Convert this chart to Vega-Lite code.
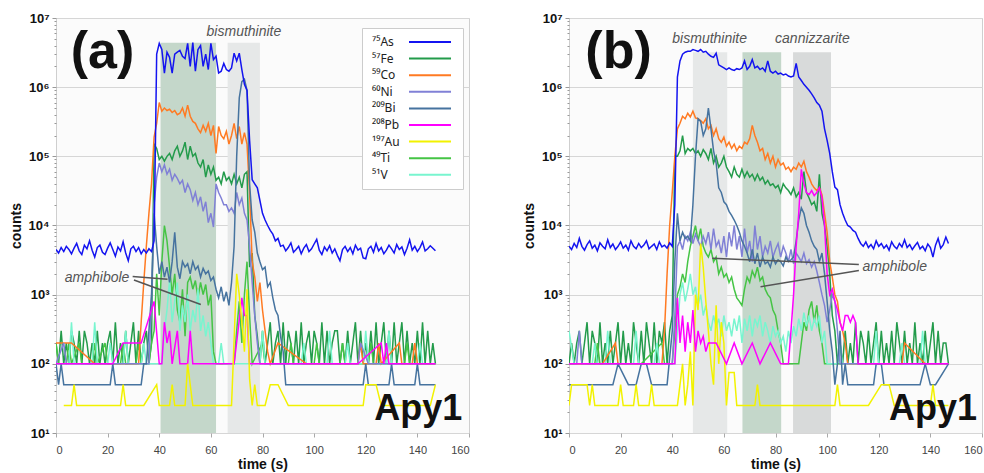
{
"$schema":"https://vega.github.io/schema/vega-lite/v6.json",
"background":"white",
"padding":{"left":8,"top":11,"right":2,"bottom":0},
"spacing":51,
"config":{"font":"Liberation Sans","view":{"stroke":"#cfcfcf","fill":"#fbfbfb"}},
"resolve":{"scale":{"color":"independent"},"legend":{"color":"independent"}},
"datasets":{
"bands":[
{"p":"a","x1":40.5,"x2":62,"lo":10,"hi":4400000,"c":"#c4d7ca"},
{"p":"a","x1":66.5,"x2":79,"lo":10,"hi":4400000,"c":"#e6e8e8"},
{"p":"b","x1":48,"x2":61.3,"lo":10,"hi":3200000,"c":"#e6e8e8"},
{"p":"b","x1":67.2,"x2":82.2,"lo":10,"hi":3200000,"c":"#c4d7ca"},
{"p":"b","x1":86.8,"x2":101.5,"lo":10,"hi":3200000,"c":"#d8dada"}],
"notes":[
{"p":"a","k":"big","t":18.0,"v":1900000,"label":"(a)"},
{"p":"b","k":"big","t":19.2,"v":1900000,"label":"(b)"},
{"p":"a","k":"apy","t":157.4,"v":15.5,"label":"Apy1"},
{"p":"b","k":"apy","t":158.1,"v":15.5,"label":"Apy1"},
{"p":"a","k":"it","t":72.8,"v":5500000,"label":"bismuthinite"},
{"p":"a","k":"it","t":15.9,"v":1550,"label":"amphibole"},
{"p":"b","k":"it","t":54.5,"v":4400000,"label":"bismuthinite"},
{"p":"b","k":"it","t":94.3,"v":4400000,"label":"cannizzarite"},
{"p":"b","k":"it","t":126.2,"v":2190,"label":"amphibole"}],
"ptr":[
{"p":"a","t1":29.7,"v1":1830,"t2":43.2,"v2":1670},
{"p":"a","t1":30.2,"v1":1630,"t2":56.1,"v2":720},
{"p":"b","t1":112.3,"v1":2720,"t2":55.5,"v2":3370},
{"p":"b","t1":112.3,"v1":2240,"t2":74.2,"v2":1300}],
"a":[
{"t":0,"As":4500,"Fe":200,"Co":200,"Ni":100,"Bi":100,"Pb":100,"Ti":200,"V":100},
{"t":1,"As":4000,"Fe":100,"Bi":50,"Ti":100},
{"t":2,"As":4800,"Fe":300,"Bi":100},
{"t":3,"As":4200,"Fe":100,"Ni":200,"Bi":50,"Au":25},
{"t":4,"As":5000,"Fe":200,"Ni":100,"Ti":100},
{"t":5,"As":4500,"Fe":100,"Ti":200,"V":100},
{"t":6,"As":3900,"Fe":300,"Co":200,"Au":25,"Ti":100,"V":400},
{"t":7,"As":4700,"Fe":200,"Au":50,"V":100},
{"t":8,"As":5500,"Fe":100,"Au":25},
{"t":9,"As":4300,"Fe":300,"Ti":200},
{"t":10,"As":3800,"Fe":100,"Ti":100},
{"t":11,"As":5200,"Fe":300},
{"t":12,"As":4600,"Fe":200},
{"t":13,"As":6000,"Fe":100},
{"t":14,"As":4400,"Fe":200,"Ti":100,"V":100},
{"t":15,"As":3500,"Fe":100,"Co":100,"Ti":200,"V":400},
{"t":16,"As":4800,"Fe":300,"Ti":100,"V":100},
{"t":17,"As":5200,"Fe":100},
{"t":18,"As":4100,"Fe":200},
{"t":19,"As":3800,"Fe":100,"Ti":200},
{"t":20,"As":4700,"Fe":200,"Ti":100,"V":100},
{"t":21,"As":5600,"Fe":300,"Bi":50,"V":200},
{"t":22,"As":4500,"Fe":100,"Bi":100,"Pb":100,"V":100},
{"t":23,"As":3600,"Fe":400,"Bi":50},
{"t":24,"As":4900,"Fe":100},
{"t":25,"As":4300,"Fe":200,"Au":25,"Ti":100},
{"t":26,"As":5800,"Fe":100,"Pb":200,"Au":50,"Ti":200,"V":100},
{"t":27,"As":4000,"Fe":300,"Au":25,"Ti":100,"V":300},
{"t":28,"As":3100,"Fe":100,"V":100},
{"t":29,"As":4600,"Fe":200},
{"t":30,"As":5000,"Fe":400},
{"t":31,"As":4200,"Fe":100,"Ti":100},
{"t":32,"As":4800,"Fe":300,"Co":100,"Ti":200},
{"t":33,"As":3900,"Fe":100,"Co":400,"Bi":50,"Pb":200,"Ti":100,"V":100},
{"t":34,"As":4500,"Fe":200,"Co":1500,"Bi":100,"Au":25,"V":200},
{"t":35,"As":4000,"Fe":300,"Co":5000,"Bi":100,"V":100},
{"t":36,"As":4600,"Fe":100,"Co":15000,"Ni":100,"Bi":300,"Ti":100},
{"t":37,"As":4200,"Fe":200,"Co":40000,"Ni":800,"Bi":1000,"Ti":200},
{"t":38,"As":6000,"Fe":150000,"Co":190000,"Ni":20000,"Bi":15000,"Pb":800,"Ti":300},
{"t":39,"As":3000000,"Fe":130000,"Co":300000,"Ni":50000,"Bi":5000,"Au":50,"Ti":2000},
{"t":40,"As":4300000,"Fe":90000,"Co":600000,"Ni":80000,"Bi":2000,"Pb":100,"Au":25,"Ti":500},
{"t":41,"As":3500000,"Fe":100000,"Co":450000,"Ni":60000,"Bi":3000,"Pb":100,"Ti":3000,"V":100},
{"t":42,"As":1600000,"Fe":85000,"Co":500000,"Ni":75000,"Bi":1800,"Pb":400,"Ti":10000,"V":300},
{"t":43,"As":3200000,"Fe":100000,"Co":460000,"Ni":55000,"Bi":2500,"Pb":200,"Ti":6000,"V":600},
{"t":44,"As":2700000,"Fe":110000,"Co":480000,"Ni":65000,"Bi":1500,"Pb":300,"Au":25,"Ti":2500,"V":1600},
{"t":45,"As":1600000,"Fe":90000,"Co":430000,"Ni":45000,"Bi":3000,"Pb":100,"Au":50,"Ti":1000,"V":400},
{"t":46,"As":3000000,"Fe":120000,"Co":460000,"Ni":55000,"Bi":8000,"Au":25,"Ti":2000,"V":800},
{"t":47,"As":3200000,"Fe":140000,"Co":400000,"Ni":48000,"Bi":2500,"Pb":300,"Ti":600,"V":1500},
{"t":48,"As":3400000,"Fe":100000,"Co":420000,"Ni":40000,"Bi":1700,"Pb":100,"Ti":400,"V":300},
{"t":49,"As":2800000,"Fe":120000,"Co":500000,"Ni":45000,"Bi":3000,"Ti":1200,"V":700},
{"t":50,"As":2600000,"Fe":160000,"Co":380000,"Ni":30000,"Bi":2500,"Au":25,"Ti":250,"V":400},
{"t":51,"As":4300000,"Fe":90000,"Co":550000,"Ni":40000,"Bi":2800,"Pb":100,"Au":100,"Ti":1500,"V":1000},
{"t":52,"As":2000000,"Fe":140000,"Co":380000,"Ni":33000,"Bi":2000,"Pb":300,"Ti":1800,"V":300},
{"t":53,"As":4400000,"Fe":100000,"Co":320000,"Ni":23000,"Bi":3000,"Pb":100,"Au":25,"Ti":1200,"V":600},
{"t":54,"As":1700000,"Fe":110000,"Co":300000,"Ni":30000,"Bi":2300,"Ti":1600,"V":400},
{"t":55,"As":3500000,"Fe":80000,"Co":250000,"Ni":20000,"Bi":2600,"Ti":900,"V":1200},
{"t":56,"As":4000000,"Fe":70000,"Co":220000,"Ni":26000,"Bi":1800,"Ti":1500,"V":300},
{"t":57,"As":2000000,"Fe":90000,"Co":280000,"Ni":16000,"Bi":2400,"Ti":1000,"V":500},
{"t":58,"As":3000000,"Fe":50000,"Co":230000,"Ni":22000,"Bi":2000,"Ti":1400,"V":250},
{"t":59,"As":1800000,"Fe":75000,"Co":300000,"Ni":11000,"Bi":2200,"Ti":700,"V":400},
{"t":60,"As":4300000,"Fe":55000,"Co":200000,"Ni":15000,"Bi":1600,"Ti":1000,"V":200},
{"t":61,"As":2500000,"Fe":70000,"Co":280000,"Ni":9500,"Bi":1800,"Ti":150,"V":100},
{"t":62,"As":2800000,"Fe":45000,"Co":110000,"Ni":40000,"Bi":1200,"Ti":100},
{"t":63,"As":1600000,"Fe":50000,"Co":270000,"Ni":30000,"Bi":900,"V":100},
{"t":64,"As":1700000,"Fe":40000,"Co":200000,"Ni":25000,"Bi":1300,"V":200},
{"t":65,"As":2200000,"Fe":60000,"Co":180000,"Ni":20000,"Bi":800,"V":100},
{"t":66,"As":1800000,"Fe":45000,"Co":230000,"Ni":20000,"Bi":1100},
{"t":67,"As":1700000,"Fe":50000,"Co":150000,"Ni":16000,"Bi":700},
{"t":68,"As":1900000,"Fe":40000,"Co":200000,"Ni":18000,"Bi":1500,"Au":25},
{"t":69,"As":3100000,"Fe":55000,"Co":300000,"Ni":15000,"Bi":5000,"Pb":100,"Ti":100},
{"t":70,"As":2400000,"Fe":40000,"Co":180000,"Ni":30000,"Bi":100000,"Au":2000,"Ti":300},
{"t":71,"As":3100000,"Fe":50000,"Co":270000,"Ni":20000,"Bi":700000,"Au":1000,"Ti":800},
{"t":72,"As":1800000,"Fe":35000,"Co":150000,"Ni":25000,"Bi":1200000,"Pb":900,"Au":400,"Ti":200},
{"t":73,"As":1100000,"Fe":55000,"Co":220000,"Ni":15000,"Bi":1300000,"Pb":500,"Au":150,"Ti":1000},
{"t":74,"As":900000,"Fe":60000,"Co":150000,"Ni":12000,"Bi":900000,"Pb":500,"Au":1200,"Ti":3000},
{"t":75,"As":170000,"Fe":2500,"Co":30000,"Ni":5000,"Bi":40000,"Pb":100,"Au":60,"Ti":500},
{"t":76,"As":46000,"Fe":4000,"Co":3000,"Ni":1500,"Bi":12000,"Au":25,"Ti":100},
{"t":77,"As":40000,"Fe":500,"Co":1800,"Ni":500,"Bi":8000,"Au":50},
{"t":78,"As":35000,"Fe":250,"Co":800,"Ni":200,"Bi":4000,"Au":25},
{"t":79,"As":23000,"Fe":100,"Co":1500,"Ni":100,"Bi":3000,"V":100},
{"t":80,"As":15000,"Fe":300,"Co":600,"Bi":2300,"Ti":200,"V":300},
{"t":81,"As":12000,"Fe":100,"Co":300,"Bi":2500,"Au":25,"Ti":100,"V":100},
{"t":82,"As":10000,"Fe":200,"Co":150,"Bi":1300},
{"t":83,"As":8500,"Fe":400,"Co":100,"Bi":1500,"Au":50},
{"t":84,"As":7500,"Fe":100,"Bi":900},
{"t":85,"As":6000,"Fe":200,"Bi":600},
{"t":86,"As":6500,"Fe":300,"Co":200,"Bi":500,"Au":50},
{"t":87,"As":5000,"Fe":100,"Bi":250},
{"t":88,"As":5200,"Fe":400,"Bi":150},
{"t":89,"As":4300,"Fe":100,"Bi":50},
{"t":90,"As":4800,"Fe":300,"Au":25,"Ti":100},
{"t":91,"As":5600,"Fe":200,"Ti":200},
{"t":92,"As":4100,"Fe":100,"Ti":100},
{"t":93,"As":4500,"Fe":300},
{"t":94,"As":5000,"Fe":100},
{"t":95,"As":3900,"Fe":400,"V":100},
{"t":96,"As":4700,"Fe":100,"V":200},
{"t":97,"As":5300,"Fe":200,"Co":100,"V":100},
{"t":98,"As":4200,"Fe":300},
{"t":99,"As":4600,"Fe":100},
{"t":100,"As":5400,"Fe":300,"Ti":100},
{"t":101,"As":6300,"Fe":200,"Ti":200},
{"t":102,"As":4400,"Fe":100,"Ti":100},
{"t":103,"As":3800,"Fe":400},
{"t":104,"As":4900,"Fe":100},
{"t":105,"As":4300,"Fe":300,"V":100},
{"t":106,"As":5100,"Fe":100,"V":300},
{"t":107,"As":4000,"Fe":200,"V":100},
{"t":108,"As":4600,"Fe":300},
{"t":109,"As":3700,"Fe":300},
{"t":110,"As":3100,"Fe":100,"Ti":100},
{"t":111,"As":4500,"Fe":200,"Ti":200},
{"t":112,"As":5000,"Fe":100,"Ti":100,"V":100},
{"t":113,"As":4200,"Fe":300,"V":200},
{"t":114,"As":4800,"Fe":100,"V":100},
{"t":115,"As":3900,"Fe":200},
{"t":116,"As":5200,"Fe":400},
{"t":117,"As":4400,"Fe":100,"Co":100,"Ni":100,"Pb":100},
{"t":118,"As":4700,"Fe":300,"Co":200,"Ni":200},
{"t":119,"As":3400,"Fe":100,"Co":100,"Bi":50,"Au":25,"V":100},
{"t":120,"As":3300,"Fe":200,"Bi":100,"Au":50,"V":300},
{"t":121,"As":4600,"Fe":100,"Ni":100,"Bi":50,"Ti":100,"V":100},
{"t":122,"As":5000,"Fe":300,"Ti":200},
{"t":123,"As":4100,"Fe":100,"Ti":100},
{"t":124,"As":5500,"Fe":400,"Co":100,"Au":50},
{"t":125,"As":4300,"Fe":100,"Co":200},
{"t":126,"As":4800,"Fe":200,"Co":100,"Pb":200,"Au":25},
{"t":127,"As":3900,"Fe":400,"Pb":100},
{"t":128,"As":4400,"Fe":100,"Pb":200,"V":100},
{"t":129,"As":5200,"Fe":300,"Bi":50,"Pb":100,"V":300},
{"t":130,"As":4600,"Fe":100,"Bi":100,"V":100},
{"t":131,"As":4000,"Fe":400,"Bi":50},
{"t":132,"As":5300,"Fe":100},
{"t":133,"As":4500,"Fe":200,"Co":200},
{"t":134,"As":4900,"Fe":400,"Co":100},
{"t":135,"As":3800,"Fe":100,"Ti":100},
{"t":136,"As":4700,"Fe":300,"Ti":200},
{"t":137,"As":6200,"Fe":100,"Ti":100},
{"t":138,"As":4400,"Fe":200,"Co":100},
{"t":139,"As":5000,"Fe":100,"Co":200,"Bi":50},
{"t":140,"As":4200,"Fe":300,"Co":100,"Bi":100,"V":100},
{"t":141,"As":4800,"Fe":100,"Bi":50,"V":200},
{"t":142,"As":5800,"Fe":400,"V":100},
{"t":143,"As":4300,"Fe":100},
{"t":144,"As":4600,"Fe":300},
{"t":145,"As":5100,"Fe":100,"Au":25},
{"t":146,"As":4700,"Fe":200},
{"t":147,"As":4300,"Fe":100,"Co":100,"Ni":100,"Bi":50,"Pb":100,"Au":50,"Ti":100,"V":100}],
"b":[
{"t":0,"As":5000,"Fe":100,"Co":100,"Ni":100,"Bi":50,"Pb":100,"Au":25,"Ti":100,"V":300},
{"t":1,"As":4500,"Fe":200,"Au":50},
{"t":2,"As":5500,"Fe":100,"V":100},
{"t":3,"As":4800,"Fe":200,"Ni":100},
{"t":4,"As":6500,"Fe":300,"Ni":300},
{"t":5,"As":5000,"Fe":100,"Ni":100},
{"t":6,"As":4400,"Fe":200},
{"t":7,"As":5300,"Fe":400,"Au":50},
{"t":8,"As":6000,"Fe":100,"Au":25},
{"t":9,"As":4700,"Fe":300,"Au":50,"V":100},
{"t":10,"As":5200,"Fe":200,"Au":25,"Ti":100,"V":200},
{"t":11,"As":4300,"Fe":100,"Ti":200,"V":100},
{"t":12,"As":5600,"Fe":400,"Ti":100},
{"t":13,"As":5000,"Fe":100,"Co":100},
{"t":14,"As":4600,"Fe":200,"V":100},
{"t":15,"As":6200,"Fe":100,"V":300},
{"t":16,"As":4800,"Fe":300,"V":100},
{"t":17,"As":5400,"Fe":100,"Bi":50},
{"t":18,"As":4500,"Fe":200,"Co":200},
{"t":19,"As":5000,"Fe":400,"Co":100,"Bi":100,"Au":25},
{"t":20,"As":5800,"Fe":100,"Au":50},
{"t":21,"As":4700,"Fe":300,"Au":25},
{"t":22,"As":5200,"Fe":100},
{"t":23,"As":4400,"Fe":200,"Bi":50},
{"t":24,"As":6000,"Fe":100},
{"t":25,"As":5000,"Fe":400,"Au":25,"V":100},
{"t":26,"As":4600,"Fe":200,"Bi":50,"Au":50,"V":300},
{"t":27,"As":5500,"Fe":100,"Au":25,"V":100},
{"t":28,"As":4800,"Fe":300,"Bi":100,"Ti":100},
{"t":29,"As":5200,"Fe":100},
{"t":30,"As":6000,"Fe":400,"Bi":100},
{"t":31,"As":4600,"Fe":200,"Au":25},
{"t":32,"As":5000,"Fe":100,"Bi":50,"Au":50},
{"t":33,"As":5400,"Fe":400,"Au":25,"V":100},
{"t":34,"As":4500,"Fe":100,"V":200},
{"t":35,"As":5800,"Fe":300,"V":100},
{"t":36,"As":4900,"Fe":200,"Co":100,"Ti":200},
{"t":37,"As":5200,"Fe":400,"Co":300,"Ti":100},
{"t":38,"As":4700,"Fe":100,"Co":2000,"Bi":50},
{"t":39,"As":5600,"Fe":300,"Co":10000},
{"t":40,"As":5000,"Fe":500,"Co":30000,"Ni":100,"Bi":300,"Ti":100},
{"t":41,"As":20000,"Fe":100000,"Co":100000,"Ni":500,"Bi":3000,"Pb":100,"Ti":300,"V":100},
{"t":42,"As":1400000,"Fe":100000,"Co":250000,"Ni":5000,"Bi":15000,"Pb":900,"Au":25,"Ti":1000,"V":300},
{"t":43,"As":2400000,"Fe":120000,"Co":300000,"Ni":6000,"Bi":6000,"Pb":200,"Au":50,"Ti":1300,"V":1000},
{"t":44,"As":3000000,"Fe":200000,"Co":380000,"Ni":4500,"Bi":8000,"Pb":500,"Au":100,"Ti":2000,"V":1500},
{"t":45,"As":3200000,"Fe":110000,"Co":350000,"Ni":7000,"Bi":6500,"Pb":150,"Au":25,"Ti":1500,"V":800},
{"t":46,"As":3300000,"Fe":130000,"Co":420000,"Ni":6000,"Bi":7000,"Pb":400,"Au":50,"Ti":3000,"V":1200},
{"t":47,"As":3300000,"Fe":120000,"Co":370000,"Ni":8000,"Bi":6000,"Pb":200,"Au":150,"Ti":5000,"V":2000},
{"t":48,"As":3500000,"Fe":130000,"Co":450000,"Ni":5500,"Bi":20000,"Pb":600,"Au":25,"Ti":7000,"V":1000},
{"t":49,"As":3400000,"Fe":110000,"Co":360000,"Ni":7500,"Bi":100000,"Pb":150,"Au":1000,"Ti":10000,"V":1300},
{"t":50,"As":3300000,"Fe":120000,"Co":350000,"Ni":6000,"Bi":350000,"Pb":300,"Au":600,"Ti":6000,"V":700},
{"t":51,"As":3500000,"Fe":100000,"Co":330000,"Ni":5000,"Bi":320000,"Pb":200,"Au":5500,"Ti":9000,"V":1000},
{"t":52,"As":3200000,"Fe":125000,"Co":300000,"Ni":7000,"Bi":200000,"Pb":250,"Au":2500,"Ti":5000,"V":500},
{"t":53,"As":3300000,"Fe":110000,"Co":350000,"Ni":5500,"Bi":250000,"Pb":150,"Au":800,"Ti":4000,"V":700},
{"t":54,"As":3000000,"Fe":90000,"Co":250000,"Ni":8000,"Bi":500000,"Pb":200,"Au":300,"Ti":3500,"V":400},
{"t":55,"As":2800000,"Fe":130000,"Co":280000,"Ni":4500,"Bi":250000,"Au":100,"Ti":4500,"V":300},
{"t":56,"As":2700000,"Fe":80000,"Co":200000,"Ni":9000,"Bi":120000,"Au":50,"Ti":3000,"V":500},
{"t":57,"As":3100000,"Fe":100000,"Co":250000,"Ni":5000,"Bi":80000,"Pb":200,"Au":700,"Ti":3500,"V":350},
{"t":58,"As":2100000,"Fe":70000,"Co":180000,"Ni":6000,"Bi":35000,"Au":100,"Ti":2000,"V":450},
{"t":59,"As":2000000,"Fe":80000,"Co":160000,"Ni":4000,"Bi":30000,"Au":400,"Ti":2500,"V":250},
{"t":60,"As":1900000,"Fe":100000,"Co":190000,"Ni":7000,"Bi":22000,"Au":200,"Ti":1800,"V":500},
{"t":61,"As":1800000,"Fe":70000,"Co":140000,"Ni":3500,"Bi":20000,"Pb":100,"Au":25,"Ti":2000,"V":300},
{"t":62,"As":1900000,"Fe":60000,"Co":160000,"Ni":8000,"Bi":16000,"Au":75,"Ti":1500,"V":400},
{"t":63,"As":1800000,"Fe":50000,"Co":130000,"Ni":5000,"Bi":14000,"Ti":1800,"V":250},
{"t":64,"As":1750000,"Fe":70000,"Co":150000,"Ni":10000,"Bi":12000,"Pb":200,"Au":75,"Ti":1200,"V":450},
{"t":65,"As":1850000,"Fe":55000,"Co":120000,"Ni":4500,"Bi":10000,"Au":25,"Ti":900,"V":300},
{"t":66,"As":1800000,"Fe":50000,"Co":140000,"Ni":7000,"Bi":8000,"Ti":800,"V":500},
{"t":67,"As":1900000,"Fe":65000,"Co":130000,"Ni":3500,"Bi":6000,"Pb":100,"Ti":700,"V":200},
{"t":68,"As":2400000,"Fe":50000,"Co":160000,"Ni":9000,"Bi":5000,"Ti":1200,"V":450},
{"t":69,"As":1800000,"Fe":60000,"Co":150000,"Ni":4000,"Bi":4000,"Ti":1800,"V":300},
{"t":70,"As":2000000,"Fe":50000,"Co":180000,"Ni":6000,"Bi":3000,"Ti":1500,"V":500},
{"t":71,"As":2500000,"Fe":55000,"Co":280000,"Ni":3000,"Bi":4500,"Pb":200,"Ti":2200,"V":250},
{"t":72,"As":1900000,"Fe":45000,"Co":200000,"Ni":10000,"Bi":2800,"Au":25,"Ti":1800,"V":450},
{"t":73,"As":2000000,"Fe":55000,"Co":160000,"Ni":4500,"Bi":4000,"Au":50,"Ti":2500,"V":350},
{"t":74,"As":1800000,"Fe":45000,"Co":120000,"Ni":7000,"Bi":2500,"Pb":100,"Au":25,"Ti":1600,"V":500},
{"t":75,"As":1900000,"Fe":50000,"Co":130000,"Ni":3500,"Bi":3500,"Ti":1800,"V":250},
{"t":76,"As":1700000,"Fe":40000,"Co":90000,"Ni":5000,"Bi":2800,"Ti":1200,"V":400},
{"t":77,"As":2400000,"Fe":45000,"Co":110000,"Ni":4000,"Bi":3000,"Ti":1000,"V":300},
{"t":78,"As":1700000,"Fe":38000,"Co":80000,"Ni":6000,"Bi":2500,"Pb":200,"Ti":900,"V":200},
{"t":79,"As":1600000,"Fe":40000,"Co":100000,"Ni":3500,"Bi":3500,"Ti":600,"V":350},
{"t":80,"As":1700000,"Fe":35000,"Co":70000,"Ni":4500,"Bi":2800,"Ti":500,"V":250},
{"t":81,"As":1550000,"Fe":38000,"Co":90000,"Ni":5500,"Bi":3200,"Ti":300,"V":300},
{"t":82,"As":1600000,"Fe":30000,"Co":75000,"Ni":3500,"Bi":3000,"Pb":100,"Ti":200,"V":200},
{"t":83,"As":1500000,"Fe":40000,"Co":80000,"Ni":5000,"Bi":2600,"Ti":100,"V":250},
{"t":84,"As":1550000,"Fe":35000,"Co":65000,"Ni":4000,"Bi":3500,"V":150},
{"t":85,"As":1450000,"Fe":32000,"Co":70000,"Ni":3000,"Bi":3000,"Pb":100,"V":300},
{"t":86,"As":1400000,"Fe":28000,"Co":60000,"Ni":4500,"Bi":3200,"Pb":300,"V":200},
{"t":87,"As":1450000,"Fe":35000,"Co":70000,"Ni":2800,"Bi":3500,"Pb":1000,"V":350},
{"t":88,"As":2200000,"Fe":26000,"Co":65000,"Ni":4000,"Bi":6000,"Pb":5000,"V":250},
{"t":89,"As":1400000,"Fe":30000,"Co":80000,"Ni":3500,"Bi":12000,"Pb":15000,"Ti":100,"V":450},
{"t":90,"As":1250000,"Fe":24000,"Co":70000,"Ni":3000,"Bi":18000,"Pb":65000,"Ti":200,"V":300},
{"t":91,"As":1100000,"Fe":60000,"Co":85000,"Ni":4000,"Bi":15000,"Pb":40000,"Ti":400,"V":550},
{"t":92,"As":1000000,"Fe":30000,"Co":60000,"Ni":2800,"Bi":10000,"Pb":30000,"Ti":300,"V":350},
{"t":93,"As":900000,"Fe":25000,"Co":50000,"Ni":3200,"Bi":8000,"Pb":28000,"Ti":600,"V":500},
{"t":94,"As":800000,"Fe":20000,"Co":40000,"Ni":2500,"Bi":6000,"Pb":32000,"Ti":800,"V":300},
{"t":95,"As":700000,"Fe":22000,"Co":35000,"Ni":3000,"Bi":5000,"Pb":27000,"Ti":400,"V":450},
{"t":96,"As":600000,"Fe":16000,"Co":32000,"Ni":2200,"Bi":4500,"Pb":30000,"Ti":700,"V":350},
{"t":97,"As":550000,"Fe":55000,"Co":35000,"Ni":1500,"Bi":3000,"Pb":35000,"Ti":300,"V":500},
{"t":98,"As":450000,"Fe":15000,"Co":28000,"Ni":1000,"Bi":4000,"Pb":25000,"Ti":200,"V":200},
{"t":99,"As":250000,"Fe":10000,"Co":15000,"Ni":700,"Bi":2000,"Pb":10000,"Ti":100,"V":300},
{"t":100,"As":170000,"Fe":5000,"Co":8000,"Ni":400,"Bi":800,"Pb":2000,"V":100},
{"t":101,"As":110000,"Fe":2000,"Co":3000,"Ni":600,"Bi":300,"Pb":1000},
{"t":102,"As":60000,"Fe":500,"Co":1800,"Ni":1000,"Bi":150,"Pb":1200},
{"t":103,"As":36000,"Fe":300,"Co":1000,"Ni":800,"Bi":50,"Pb":800,"Au":25},
{"t":104,"As":33000,"Fe":100,"Co":800,"Ni":300,"Bi":100,"Pb":600,"Au":50,"V":100},
{"t":105,"As":20000,"Fe":200,"Co":400,"Ni":100,"Bi":300,"Pb":400,"Au":25,"V":200},
{"t":106,"As":15000,"Fe":100,"Co":300,"Bi":50,"Pb":300,"V":100},
{"t":107,"As":12000,"Fe":300,"Co":200,"Bi":100,"Pb":500},
{"t":108,"As":10000,"Fe":100,"Co":100,"Bi":50,"Pb":500},
{"t":109,"As":9500,"Fe":200,"Pb":400},
{"t":110,"As":8500,"Fe":100,"Pb":500},
{"t":111,"As":8000,"Fe":400,"Pb":400},
{"t":112,"As":6500,"Fe":100,"Pb":100},
{"t":113,"As":5500,"Fe":300},
{"t":114,"As":5000,"Fe":200},
{"t":115,"As":5800,"Fe":100},
{"t":116,"As":4800,"Fe":300,"Au":25},
{"t":117,"As":5300,"Fe":100},
{"t":118,"As":4600,"Fe":200,"Bi":50,"V":100},
{"t":119,"As":6000,"Fe":400,"Bi":100,"V":300},
{"t":120,"As":5000,"Fe":100,"V":100},
{"t":121,"As":5500,"Fe":300,"Bi":100,"Au":50},
{"t":122,"As":4700,"Fe":100,"Bi":50},
{"t":123,"As":5200,"Fe":200},
{"t":124,"As":4400,"Fe":100,"Au":50},
{"t":125,"As":5800,"Fe":300},
{"t":126,"As":5000,"Fe":100,"Au":25},
{"t":127,"As":4600,"Fe":400},
{"t":128,"As":5500,"Fe":200,"V":100},
{"t":129,"As":4900,"Fe":100,"Co":100,"V":200},
{"t":130,"As":6200,"Fe":300,"Co":200,"V":100},
{"t":131,"As":4800,"Fe":100},
{"t":132,"As":5300,"Fe":200},
{"t":133,"As":4500,"Fe":100},
{"t":134,"As":5100,"Fe":400},
{"t":135,"As":5700,"Fe":100},
{"t":136,"As":4600,"Fe":200,"Bi":50,"V":100},
{"t":137,"As":5000,"Fe":100,"V":300},
{"t":138,"As":4300,"Fe":300,"Co":100,"Bi":100,"V":100},
{"t":139,"As":5400,"Fe":100},
{"t":140,"As":4800,"Fe":200,"Bi":50,"Au":25},
{"t":141,"As":3500,"Fe":400,"Au":50},
{"t":142,"As":5200,"Fe":100,"Bi":50,"Au":25},
{"t":143,"As":6500,"Fe":300},
{"t":144,"As":4700,"Fe":100},
{"t":145,"As":5300,"Fe":200},
{"t":146,"As":6800,"Fe":200},
{"t":147,"As":5500,"Fe":100,"Co":100,"Ni":100,"Bi":100,"Pb":100,"Au":25,"Ti":100,"V":100}]
},
"hconcat":[
{"width":413,"height":415,
"layer":[
{"data":{"name":"bands"},"transform":[{"filter":"datum.p=='a'"}],
 "mark":{"type":"rect"},
 "encoding":{
  "x":{"field":"x1","type":"quantitative","scale":{"domain":[0,160],"nice":false,"zero":false},
   "axis":{"title":"time (s)","values":[0,20,40,60,80,100,120,140,160],"grid":false,"domain":false,"labelFontSize":11,"labelColor":"#444","tickColor":"#aaa","tickSize":4,"labelPadding":7,"titleFontSize":14,"titleFontWeight":"bold","titleColor":"#111","titlePadding":2}},
  "x2":{"field":"x2"},
  "y":{"field":"lo","type":"quantitative","scale":{"type":"log","domain":[10,10000000],"nice":false},
   "axis":{"title":"counts","values":[10,20,30,40,50,60,70,80,90,100,200,300,400,500,600,700,800,900,1000,2000,3000,4000,5000,6000,7000,8000,9000,10000,20000,30000,40000,50000,60000,70000,80000,90000,100000,200000,300000,400000,500000,600000,700000,800000,900000,1000000,2000000,3000000,4000000,5000000,6000000,7000000,8000000,9000000,10000000],
    "labelExpr":"abs(log(datum.value)/LN10 - round(log(datum.value)/LN10)) < 0.01 ? '10' + ['⁰','¹','²','³','⁴','⁵','⁶','⁷'][round(log(datum.value)/LN10)] : ''",
    "labelOverlap":false,"labelFontWeight":"bold","labelFontSize":13,"labelColor":"#111","labelPadding":3,
    "tickColor":"#999","tickSize":{"condition":{"test":"abs(log(datum.value)/LN10 - round(log(datum.value)/LN10)) < 0.01","value":4},"value":2},
    "grid":true,"gridColor":"#d6d6d6","gridOpacity":{"condition":{"test":"abs(log(datum.value)/LN10 - round(log(datum.value)/LN10)) < 0.01","value":1},"value":0},
    "domain":false,"titleFontSize":14,"titleFontWeight":"bold","titleColor":"#111","titlePadding":5}},
  "y2":{"field":"hi"},
  "fill":{"field":"c","type":"nominal","scale":null}}},
{"data":{"name":"a"},
 "transform":[{"fold":["Fe","Ti","V","Co","Ni","Bi","Au","Pb","As"],"as":["s","v"]},{"filter":"isValid(datum.v) && datum.v > 0"}],
 "mark":{"type":"line","strokeWidth":1.5,"clip":true},
 "encoding":{
  "x":{"field":"t","type":"quantitative","scale":{"domain":[0,160],"nice":false,"zero":false}},
  "y":{"field":"v","type":"quantitative","scale":{"type":"log","domain":[10,10000000],"nice":false}},
  "color":{"field":"s","type":"nominal",
   "scale":{"domain":["As","Fe","Co","Ni","Bi","Pb","Au","Ti","V"],"range":["#1414f0","#239b4b","#ff7a22","#8080d6","#46739f","#ff00ff","#f2f200","#45c445","#78f5cf"]},
   "legend":{"orient":"none","legendX":306,"legendY":10,"title":null,"symbolType":"M33,0H75","symbolSize":4,"symbolStrokeWidth":2,"labelFont":"Noto Sans","labelFontSize":12,"labelColor":"#222","fillColor":"white","strokeColor":"#cccccc","padding":8,"rowPadding":4.6,"labelOffset":-10,
    "labelExpr":"['⁷⁵As','⁵⁷Fe','⁵⁹Co','⁶⁰Ni','²⁰⁹Bi','²⁰⁸Pb','¹⁹⁷Au','⁴⁹Ti','⁵¹V'][indexof(['As','Fe','Co','Ni','Bi','Pb','Au','Ti','V'], datum.label)]"}}}},
{"data":{"name":"ptr"},"transform":[{"filter":"datum.p=='a'"}],
 "mark":{"type":"rule","color":"#555","strokeWidth":1.5},
 "encoding":{"x":{"field":"t1","type":"quantitative","scale":{"domain":[0,160],"nice":false,"zero":false}},"x2":{"field":"t2"},
  "y":{"field":"v1","type":"quantitative","scale":{"type":"log","domain":[10,10000000],"nice":false}},"y2":{"field":"v2"}}},
{"data":{"name":"notes"},"transform":[{"filter":"datum.p=='a' && datum.k=='big'"}],
 "mark":{"type":"text","fontSize":52,"fontWeight":"bold","align":"center","baseline":"alphabetic","color":"#111"},
 "encoding":{"x":{"field":"t","type":"quantitative","scale":{"domain":[0,160],"nice":false,"zero":false}},"y":{"field":"v","type":"quantitative","scale":{"type":"log","domain":[10,10000000],"nice":false}},"text":{"field":"label"}}},
{"data":{"name":"notes"},"transform":[{"filter":"datum.p=='a' && datum.k=='apy'"}],
 "mark":{"type":"text","fontSize":36,"fontWeight":"bold","align":"right","baseline":"alphabetic","color":"#111"},
 "encoding":{"x":{"field":"t","type":"quantitative","scale":{"domain":[0,160],"nice":false,"zero":false}},"y":{"field":"v","type":"quantitative","scale":{"type":"log","domain":[10,10000000],"nice":false}},"text":{"field":"label"}}},
{"data":{"name":"notes"},"transform":[{"filter":"datum.p=='a' && datum.k=='it'"}],
 "mark":{"type":"text","fontSize":14,"fontStyle":"italic","align":"center","baseline":"alphabetic","color":"#555"},
 "encoding":{"x":{"field":"t","type":"quantitative","scale":{"domain":[0,160],"nice":false,"zero":false}},"y":{"field":"v","type":"quantitative","scale":{"type":"log","domain":[10,10000000],"nice":false}},"text":{"field":"label"}}}
]},
{"width":413,"height":415,
"layer":[
{"data":{"name":"bands"},"transform":[{"filter":"datum.p=='b'"}],
 "mark":{"type":"rect"},
 "encoding":{
  "x":{"field":"x1","type":"quantitative","scale":{"domain":[0,160],"nice":false,"zero":false},
   "axis":{"title":"time (s)","values":[0,20,40,60,80,100,120,140,160],"grid":false,"domain":false,"labelFontSize":11,"labelColor":"#444","tickColor":"#aaa","tickSize":4,"labelPadding":7,"titleFontSize":14,"titleFontWeight":"bold","titleColor":"#111","titlePadding":2}},
  "x2":{"field":"x2"},
  "y":{"field":"lo","type":"quantitative","scale":{"type":"log","domain":[10,10000000],"nice":false},
   "axis":{"title":"counts","values":[10,20,30,40,50,60,70,80,90,100,200,300,400,500,600,700,800,900,1000,2000,3000,4000,5000,6000,7000,8000,9000,10000,20000,30000,40000,50000,60000,70000,80000,90000,100000,200000,300000,400000,500000,600000,700000,800000,900000,1000000,2000000,3000000,4000000,5000000,6000000,7000000,8000000,9000000,10000000],
    "labelExpr":"abs(log(datum.value)/LN10 - round(log(datum.value)/LN10)) < 0.01 ? '10' + ['⁰','¹','²','³','⁴','⁵','⁶','⁷'][round(log(datum.value)/LN10)] : ''",
    "labelOverlap":false,"labelFontWeight":"bold","labelFontSize":13,"labelColor":"#111","labelPadding":3,
    "tickColor":"#999","tickSize":{"condition":{"test":"abs(log(datum.value)/LN10 - round(log(datum.value)/LN10)) < 0.01","value":4},"value":2},
    "grid":true,"gridColor":"#d6d6d6","gridOpacity":{"condition":{"test":"abs(log(datum.value)/LN10 - round(log(datum.value)/LN10)) < 0.01","value":1},"value":0},
    "domain":false,"titleFontSize":14,"titleFontWeight":"bold","titleColor":"#111","titlePadding":5}},
  "y2":{"field":"hi"},
  "fill":{"field":"c","type":"nominal","scale":null}}},
{"data":{"name":"b"},
 "transform":[{"fold":["Fe","Ti","V","Co","Ni","Bi","Au","Pb","As"],"as":["s","v"]},{"filter":"isValid(datum.v) && datum.v > 0"}],
 "mark":{"type":"line","strokeWidth":1.5,"clip":true},
 "encoding":{
  "x":{"field":"t","type":"quantitative","scale":{"domain":[0,160],"nice":false,"zero":false}},
  "y":{"field":"v","type":"quantitative","scale":{"type":"log","domain":[10,10000000],"nice":false}},
  "color":{"field":"s","type":"nominal",
   "scale":{"domain":["As","Fe","Co","Ni","Bi","Pb","Au","Ti","V"],"range":["#1414f0","#239b4b","#ff7a22","#8080d6","#46739f","#ff00ff","#f2f200","#45c445","#78f5cf"]},
   "legend":null}}},
{"data":{"name":"ptr"},"transform":[{"filter":"datum.p=='b'"}],
 "mark":{"type":"rule","color":"#555","strokeWidth":1.5},
 "encoding":{"x":{"field":"t1","type":"quantitative","scale":{"domain":[0,160],"nice":false,"zero":false}},"x2":{"field":"t2"},
  "y":{"field":"v1","type":"quantitative","scale":{"type":"log","domain":[10,10000000],"nice":false}},"y2":{"field":"v2"}}},
{"data":{"name":"notes"},"transform":[{"filter":"datum.p=='b' && datum.k=='big'"}],
 "mark":{"type":"text","fontSize":52,"fontWeight":"bold","align":"center","baseline":"alphabetic","color":"#111"},
 "encoding":{"x":{"field":"t","type":"quantitative","scale":{"domain":[0,160],"nice":false,"zero":false}},"y":{"field":"v","type":"quantitative","scale":{"type":"log","domain":[10,10000000],"nice":false}},"text":{"field":"label"}}},
{"data":{"name":"notes"},"transform":[{"filter":"datum.p=='b' && datum.k=='apy'"}],
 "mark":{"type":"text","fontSize":36,"fontWeight":"bold","align":"right","baseline":"alphabetic","color":"#111"},
 "encoding":{"x":{"field":"t","type":"quantitative","scale":{"domain":[0,160],"nice":false,"zero":false}},"y":{"field":"v","type":"quantitative","scale":{"type":"log","domain":[10,10000000],"nice":false}},"text":{"field":"label"}}},
{"data":{"name":"notes"},"transform":[{"filter":"datum.p=='b' && datum.k=='it'"}],
 "mark":{"type":"text","fontSize":14,"fontStyle":"italic","align":"center","baseline":"alphabetic","color":"#555"},
 "encoding":{"x":{"field":"t","type":"quantitative","scale":{"domain":[0,160],"nice":false,"zero":false}},"y":{"field":"v","type":"quantitative","scale":{"type":"log","domain":[10,10000000],"nice":false}},"text":{"field":"label"}}}
]}
]
}
